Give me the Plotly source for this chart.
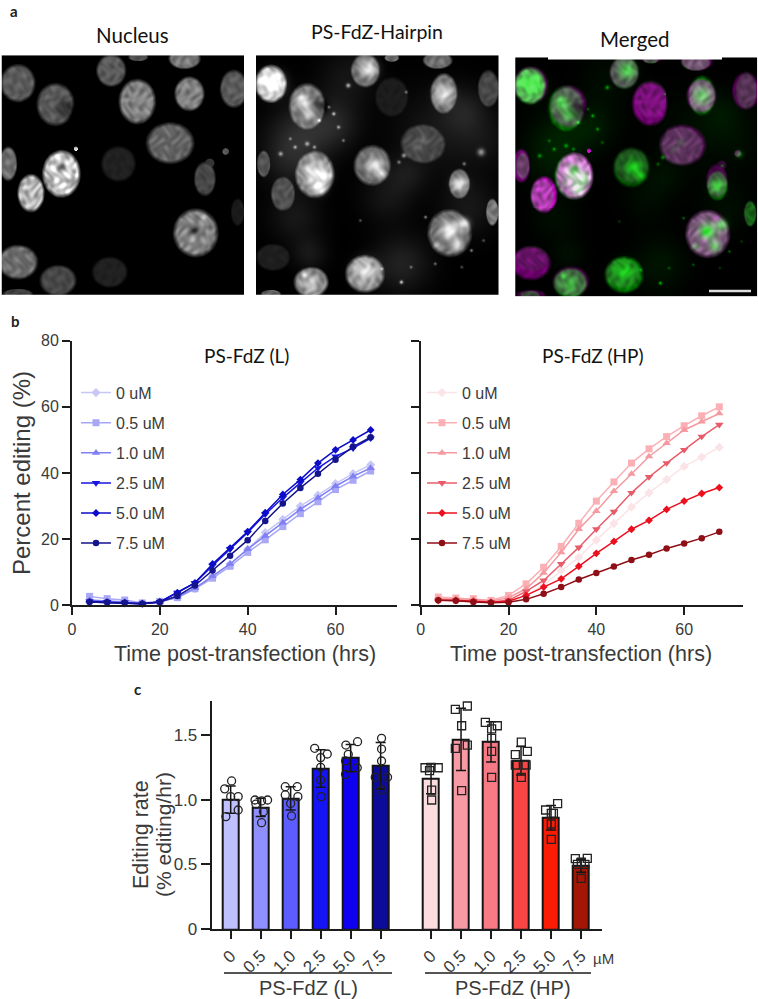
import numpy as np
import plotly.graph_objects as go

W, H = 758, 999

# ---------- panel b data ----------
TIME = [4, 8, 12, 16, 20, 24, 28, 32, 36, 40, 44, 48, 52, 56, 60, 64, 68]
DOSE_LABELS = ["0 uM", "0.5 uM", "1.0 uM", "2.5 uM", "5.0 uM", "7.5 uM"]
SYMBOLS = ["diamond", "square", "triangle-up", "triangle-down", "diamond", "circle"]
MARKER_SIZES = [7, 7, 7.5, 7.5, 6, 6.5]
L_0 = [1.0, 0.7, 0.6, 0.5, 1.0, 2.5, 5.0, 8.7, 12.5, 17.0, 22.0, 26.0, 30.0, 33.3, 36.8, 39.8, 42.5]
L_05 = [2.7, 2.0, 1.6, 0.7, 1.2, 2.3, 5.0, 8.2, 11.8, 16.0, 19.8, 23.8, 27.7, 31.3, 35.0, 37.8, 40.6]
L_10 = [1.6, 1.4, 1.0, 0.6, 1.0, 2.5, 5.2, 8.8, 12.5, 17.0, 21.0, 25.0, 29.0, 32.5, 36.0, 39.0, 41.5]
L_25 = [1.2, 1.0, 0.9, 0.5, 1.0, 3.8, 6.8, 12.0, 17.0, 22.0, 27.5, 32.5, 37.0, 41.5, 45.0, 47.5, 50.5]
L_50 = [1.0, 0.9, 0.8, 0.5, 1.0, 3.8, 6.8, 12.5, 17.3, 22.3, 28.0, 33.5, 38.0, 43.0, 47.0, 50.0, 53.0]
L_75 = [1.0, 0.9, 0.8, 0.5, 1.0, 2.8, 6.0, 10.5, 15.0, 19.7, 25.5, 30.8, 35.5, 39.8, 44.0, 48.0, 50.8]
HP_0 = [1.5, 1.5, 1.0, 0.9, 1.0, 3.0, 6.0, 10.5, 14.5, 19.7, 24.7, 29.7, 34.0, 38.0, 42.0, 44.8, 47.8]
HP_05 = [2.5, 2.2, 2.0, 1.5, 3.0, 6.5, 11.5, 17.8, 24.8, 31.5, 37.3, 43.0, 47.3, 51.0, 54.3, 57.3, 60.0]
HP_10 = [2.0, 2.0, 1.8, 1.3, 2.3, 5.0, 9.8, 16.0, 23.0, 28.5, 34.5, 39.7, 45.0, 49.0, 53.0, 55.5, 58.0]
HP_25 = [1.5, 1.5, 1.3, 1.0, 1.5, 4.2, 7.5, 12.5, 17.5, 23.0, 28.3, 34.0, 38.8, 43.0, 47.0, 51.0, 54.6]
HP_50 = [1.5, 1.5, 1.2, 0.9, 1.2, 3.0, 5.5, 8.0, 11.8, 15.7, 19.3, 23.0, 25.7, 29.0, 31.5, 33.8, 35.6]
HP_75 = [1.5, 1.4, 1.0, 0.8, 0.9, 1.8, 3.5, 5.5, 7.8, 9.8, 11.7, 13.7, 15.3, 17.2, 18.7, 20.3, 22.2]
L_LINE_COLORS = ["#c8c8f6", "#a8a8f6", "#8080f4", "#1616e0", "#0c0cc8", "#14148c"]
HP_LINE_COLORS = ["#fbe4e7", "#fbb0b5", "#f59aa0", "#e85c6a", "#ec101e", "#8f0f17"]

# ---------- panel c data ----------
BAR_TICKS = ["0", "0.5", "1.0", "2.5", "5.0", "7.5"]
L_POS = [0, 1, 2, 3, 4, 5]
HP_POS = [6.68, 7.68, 8.68, 9.68, 10.68, 11.68]
L_RATE = [1.00, 0.94, 1.01, 1.24, 1.32, 1.26]
HP_RATE = [1.16, 1.465, 1.445, 1.30, 0.86, 0.49]
L_SD = [0.105, 0.07, 0.09, 0.145, 0.105, 0.18]
HP_SD = [0.115, 0.24, 0.155, 0.11, 0.095, 0.05]
L_BAR_COLORS = ["#bfc0ff", "#8f8fff", "#5c5cff", "#1414f5", "#1000f0", "#0c0c99"]
HP_BAR_COLORS = ["#fbdde0", "#f79aa3", "#f77a85", "#fa4545", "#fb1c05", "#a31505"]
L_POINTS = [[1.144, 1.083, 1.023, 1.023, 0.92, 0.869],
            [0.997, 0.997, 0.99, 0.966, 0.907, 0.822],
            [1.10, 1.10, 1.036, 1.023, 0.971, 0.874],
            [1.396, 1.352, 1.324, 1.249, 1.151, 1.023],
            [1.421, 1.447, 1.349, 1.298, 1.246, 1.195],
            [1.473, 1.39, 1.298, 1.172, 1.172, 1.074]]
L_JITTER = [[0.03, -0.2, 0.25, 0.0, 0.25, -0.16],
            [-0.19, 0.23, 0.03, -0.16, 0.09, 0.03],
            [-0.18, 0.22, -0.18, 0.24, 0.0, 0.03],
            [-0.2, 0.22, 0.0, 0.0, 0.0, 0.02],
            [-0.16, 0.23, -0.08, -0.17, 0.22, -0.17],
            [0.03, 0.03, 0.03, 0.23, -0.18, 0.03]]
HP_POINTS = [[1.246, 1.249, 1.246, 1.223, 1.074, 0.997],
             [1.722, 1.696, 1.57, 1.396, 1.421, 1.069],
             [1.596, 1.57, 1.545, 1.473, 1.372, 1.172],
             [1.444, 1.372, 1.347, 1.267, 1.267, 1.172],
             [0.969, 0.92, 0.894, 0.812, 0.694, 0.894],
             [0.545, 0.547, 0.517, 0.501, 0.501, 0.393]]
HP_JITTER = [[-0.2, 0.0, 0.24, -0.05, 0.02, 0.02],
             [0.21, -0.19, 0.02, -0.19, 0.21, 0.02],
             [-0.19, 0.21, 0.02, 0.02, 0.02, 0.02],
             [0.01, 0.21, -0.19, -0.19, 0.17, 0.01],
             [0.22, -0.18, 0.01, 0.01, 0.01, 0.08],
             [-0.19, 0.21, 0.01, -0.12, 0.13, 0.01]]

# ---------- panel a micrographs: (x, y, rx, ry, brightness) in reference zoom units ----------
NUC_DAPI = [(35, 248, 35, 55, .42), (113, 312, 38, 62, .42), (228, 210, 30, 47, .42), (282, 303, 37, 65, .6),
            (390, 280, 30, 50, .6), (482, 265, 28, 55, .42), (380, 175, 32, 30, .55), (350, 428, 48, 60, .46),
            (243, 490, 35, 52, .15), (125, 520, 38, 68, 1.0), (62, 578, 27, 55, .85), (15, 490, 18, 50, .5),
            (422, 535, 22, 50, .33), (403, 697, 45, 70, .6), (35, 785, 40, 50, .5), (118, 840, 37, 45, .33),
            (225, 815, 36, 45, .15), (490, 635, 14, 40, .12), (35, 880, 30, 15, .3), (284, 170, 20, 12, .35),
            (155, 445, 4, 7, 1.0), (465, 453, 7, 10, .4), (432, 488, 10, 14, .25)]
NUC_HAIR = [(560, 250, 32, 55, .8), (635, 320, 38, 70, .55), (755, 210, 30, 50, .5), (810, 290, 35, 60, .13),
            (918, 280, 28, 60, .55), (1010, 265, 22, 55, .33), (875, 430, 47, 60, .33), (650, 520, 40, 70, .65),
            (770, 495, 38, 60, .48), (585, 580, 25, 52, .38), (545, 490, 14, 40, .38), (950, 550, 22, 45, .5),
            (1018, 635, 13, 40, .55), (930, 697, 45, 70, .5), (755, 820, 40, 55, .62), (643, 845, 35, 45, .62),
            (565, 770, 35, 40, .14), (905, 180, 30, 25, .5), (810, 172, 15, 12, .45), (560, 880, 20, 12, .45)]
# (x, y, radius in px, amplitude)
BLOBS_DAPI = [(135, 325, 6, -.2), (125, 500, 4, -.3), (105, 545, 3, -.3), (145, 540, 3, -.25), (400, 690, 3, -.3),
              (420, 650, 2, .25), (395, 720, 2, .2)]
BLOBS_HAIR = [(565, 250, 8, .45), (545, 235, 4, .2), (625, 300, 5, .45), (640, 335, 5, .35), (660, 320, 5, -.3), (762, 205, 6, .5),
              (918, 280, 6, .45), (650, 515, 7, .4), (675, 525, 4, .35), (660, 560, 5, .45), (775, 495, 6, .5), (790, 520, 3, .35),
              (950, 550, 5, .5), (930, 690, 6, .6), (960, 670, 4, .5), (945, 735, 4, .45), (905, 735, 2.5, .3), (755, 810, 8, .35),
              (643, 850, 5, .3), (630, 825, 2, .3), (875, 420, 3, .15), (860, 440, 3, .12),
              (690, 340, 1.2, .6), (660, 360, 1.2, .5), (700, 380, 1.2, .5), (635, 430, 1.5, .5), (610, 440, 1.2, .5),
              (580, 460, 1.5, .5), (835, 465, 1.5, .5), (995, 455, 2.5, .5), (880, 650, 1, .5), (830, 845, 1.2, .7),
              (975, 750, 1, .5), (720, 255, 1.5, .6), (840, 275, 1, .4), (710, 420, 1, .4), (900, 790, 1, .4),
              (680, 320, 1, .4), (600, 415, 1, .4), (650, 440, 1.2, .45), (825, 485, 1.2, .4), (960, 490, 1.2, .4),
              (850, 800, 1, .35), (790, 805, 1, .35), (955, 800, 1, .3), (745, 660, 1, .3), (1000, 720, 1, .3)]
HAZE_HAIR = [(620, 400, 22, .14), (690, 370, 18, .13), (800, 590, 18, .08), (610, 650, 18, .09), (900, 390, 30, .08),
             (830, 790, 20, .13), (640, 760, 12, .09), (970, 620, 20, .09), (960, 330, 16, .1), (720, 230, 20, .08),
             (600, 480, 20, .1), (840, 520, 14, .08), (1000, 420, 20, .06)]
P1_X0, P2_X0, PANEL_Y0 = 3, 530, 165
IM_W, IM_H = 243, 240
ZX, ZY = 2.07, 3.0


def render(nuclei, blobs, haze, x0):
    yy, xx = np.mgrid[0:IM_H, 0:IM_W].astype(float)
    img = np.zeros((IM_H, IM_W))
    warp_x = xx + 3 * np.sin(yy * .13 + 1.1) + 2 * np.sin(yy * .29)
    warp_y = yy + 3 * np.sin(xx * .17 + .4) + 2 * np.sin(xx * .31 + 2)
    tex = (0.09 * np.sin(warp_x * .53 + warp_y * .21) + 0.08 * np.sin(warp_x * .19 - warp_y * .47 + 1)
           + 0.07 * np.sin(warp_x * .37 + warp_y * .61 + 2) + 0.05 * np.sin(warp_x * .83 - warp_y * .29 + 3))
    for (zx, zy, r, a) in haze:
        cx, cy = (zx - x0) / ZX, (zy - PANEL_Y0) / ZY
        img += a * np.exp(-((xx - cx) ** 2 + (yy - cy) ** 2) / (2 * r ** 2))
    for (zx, zy, rx, ry, b) in nuclei:
        cx, cy = (zx - x0) / ZX, (zy - PANEL_Y0) / ZY
        d = np.sqrt(((xx - cx) / (rx / ZX)) ** 2 + ((yy - cy) / (ry / ZY)) ** 2)
        mask = np.clip((1.08 - d) / .22, 0, 1)
        img = np.maximum(img, b * mask * (0.85 + (0.35 + 0.75 * b) * tex))
    for (zx, zy, r, a) in blobs:
        cx, cy = (zx - x0) / ZX, (zy - PANEL_Y0) / ZY
        img += a * np.exp(-((xx - cx) ** 2 + (yy - cy) ** 2) / (2 * r ** 2))
    return np.clip(img, 0, 1)


dapi = render(NUC_DAPI, BLOBS_DAPI, [], P1_X0)
hair = render(NUC_HAIR, BLOBS_HAIR, HAZE_HAIR, P2_X0)
gray = lambda a: np.dstack([a * 255] * 3).astype(int)
merged = np.dstack([dapi * 240, hair ** 1.2 * 235, dapi * 240]).astype(int)

fig = go.Figure()
fx = lambda px: px / W
fy = lambda py: 1 - py / H

AXC = "#1c1c1c"
TXT = "#3a3a3a"
SANS = "Liberation Sans"
CAL = "Lato"
common = dict(showgrid=False, zeroline=False, showline=True, linecolor=AXC, linewidth=2, automargin=False,
              ticks="outside", ticklen=8, tickwidth=2, tickcolor=AXC,
              tickfont=dict(family=SANS, size=16, color=TXT))
hidden = dict(visible=False, fixedrange=True, automargin=False)

layout = dict(width=W, height=H, margin=dict(l=0, r=0, t=0, b=0, autoexpand=False), paper_bgcolor="white",
              plot_bgcolor="rgba(0,0,0,0)", showlegend=True, hovermode="closest", bargap=0)

# line charts
layout["xaxis"] = dict(common, domain=[fx(72), fx(397)], range=[0, 74], tickvals=[0, 20, 40, 60], anchor="y")
layout["yaxis"] = dict(common, domain=[fy(605.3), fy(340.7)], range=[0, 80], tickvals=[0, 20, 40, 60, 80], anchor="x",
                       title=dict(text="Percent editing (%)", font=dict(family=SANS, size=24, color=TXT), standoff=4))
layout["xaxis2"] = dict(common, domain=[fx(420.7), fx(743)], range=[0, 73.4], tickvals=[0, 20, 40, 60], anchor="y2")
layout["yaxis2"] = dict(common, domain=[fy(605.3), fy(340.7)], range=[0, 80], tickvals=[0, 20, 40, 60, 80],
                        showticklabels=False, anchor="x2")
# bar chart
layout["xaxis3"] = dict(common, domain=[fx(211.7), fx(601.7)], range=[-0.633, 12.37], tickvals=L_POS + HP_POS,
                        ticktext=BAR_TICKS + BAR_TICKS, tickangle=-45, anchor="y3",
                        tickfont=dict(family=SANS, size=17, color=TXT))
layout["yaxis3"] = dict(common, domain=[fy(929.3), fy(700.7)], range=[0, 1.763], tickvals=[0, 0.5, 1.0, 1.5],
                        ticktext=["0", "0.5", "1.0", "1.5"], anchor="x3", ticklen=9,
                        tickfont=dict(family=SANS, size=17, color=TXT))
# micrographs
for i, (x0, x1) in enumerate([(1.5, 244), (256, 498.5), (515, 757.5)]):
    y0, y1 = (55, 295) if i < 2 else (57.3, 296.5)
    layout[f"xaxis{4+i}"] = dict(hidden, domain=[fx(x0), fx(x1)], range=[-.5, IM_W - .5], anchor=f"y{4+i}")
    layout[f"yaxis{4+i}"] = dict(hidden, domain=[fy(y1), fy(y0)], range=[IM_H - .5, -.5], anchor=f"x{4+i}")

for i, z in enumerate([gray(dapi), gray(hair), merged]):
    fig.add_trace(go.Image(z=z, xaxis=f"x{4+i}", yaxis=f"y{4+i}", hoverinfo="skip"))

L_SERIES = [L_0, L_05, L_10, L_25, L_50, L_75]
HP_SERIES = [HP_0, HP_05, HP_10, HP_25, HP_50, HP_75]
for k in range(6):
    fig.add_trace(go.Scatter(x=TIME, y=L_SERIES[k], name=DOSE_LABELS[k], mode="lines+markers", xaxis="x", yaxis="y",
                             line=dict(color=L_LINE_COLORS[k], width=1.5), cliponaxis=False,
                             marker=dict(symbol=SYMBOLS[k], size=MARKER_SIZES[k], color=L_LINE_COLORS[k]),
                             legend="legend", legendgroup=f"L{k}"))
for k in range(6):
    fig.add_trace(go.Scatter(x=TIME, y=HP_SERIES[k], name=DOSE_LABELS[k], mode="lines+markers", xaxis="x2", yaxis="y2",
                             line=dict(color=HP_LINE_COLORS[k], width=1.5), cliponaxis=False,
                             marker=dict(symbol=SYMBOLS[k], size=MARKER_SIZES[k], color=HP_LINE_COLORS[k]),
                             legend="legend2", legendgroup=f"H{k}"))

legend_style = dict(bgcolor="rgba(0,0,0,0)", font=dict(family=SANS, size=16, color=TXT), tracegroupgap=6.3,
                    yanchor="top", xanchor="left", itemsizing="trace", traceorder="grouped")
layout["legend"] = dict(legend_style, x=fx(76), y=fy(375.7))
layout["legend2"] = dict(legend_style, x=fx(422), y=fy(375.7))

# bars, error bars, points
for pos, rate, sd, cols, pts, jit, sym in [(L_POS, L_RATE, L_SD, L_BAR_COLORS, L_POINTS, L_JITTER, "circle-open"),
                                           (HP_POS, HP_RATE, HP_SD, HP_BAR_COLORS, HP_POINTS, HP_JITTER, "square-open")]:
    fig.add_trace(go.Bar(x=pos, y=rate, width=0.533, xaxis="x3", yaxis="y3", showlegend=False,
                         marker=dict(color=cols, line=dict(color="#141414", width=2)),
                         error_y=dict(type="data", array=sd, visible=True, color="#141414", thickness=1.5, width=5)))
    xs = [p + j for p, js in zip(pos, jit) for j in js]
    ys = [v for vs in pts for v in vs]
    fig.add_trace(go.Scatter(x=xs, y=ys, mode="markers", xaxis="x3", yaxis="y3", showlegend=False, cliponaxis=False,
                             marker=dict(symbol=sym, size=8, color="#222222", line=dict(color="#222222", width=1.3))))


def note(text, x, y, size, family=SANS, color=TXT, bold=False, angle=0):
    return dict(text=f"<b>{text}</b>" if bold else text, x=fx(x), y=fy(y), xref="paper", yref="paper", showarrow=False,
                xanchor="center", yanchor="middle", textangle=angle, font=dict(family=family, size=size, color=color))


layout["annotations"] = [
    note("a", 14, 11, 15, CAL, "#222222", True), note("b", 15, 321, 15, CAL, "#222222", True),
    note("c", 137, 689, 15, CAL, "#222222", True),
    note("Nucleus", 132, 35, 20.5, CAL, "#111111"), note("PS-FdZ-Hairpin", 377, 32, 19.5, CAL, "#111111"),
    note("Merged", 635, 39, 20.5, CAL, "#111111"),
    note("PS-FdZ (L)", 246, 355, 19, CAL, "#111111"), note("PS-FdZ (HP)", 593, 355, 19, CAL, "#111111"),
    note("Time post-transfection (hrs)", 245, 654, 21.5), note("Time post-transfection (hrs)", 581, 654, 21.5),
    note("Editing rate", 141, 835, 21.5, angle=-90), note("(% editing/hr)", 163, 835, 21, angle=-90),
    note("PS-FdZ (L)", 308, 988, 20), note("PS-FdZ (HP)", 513, 988, 20), note("µM", 603, 958, 15),
]
layout["shapes"] = [
    dict(type="rect", xref="paper", yref="paper", x0=fx(548), x1=fx(722), y0=fy(59.5), y1=fy(56), fillcolor="white", line_width=0),
    dict(type="line", xref="paper", yref="paper", x0=fx(709), x1=fx(751), y0=fy(291), y1=fy(291), line=dict(color="#dddddd", width=2.5)),
    dict(type="line", xref="paper", yref="paper", x0=fx(224), x1=fx(392), y0=fy(973), y1=fy(973), line=dict(color="#1c1c1c", width=1.5)),
    dict(type="line", xref="paper", yref="paper", x0=fx(425), x1=fx(591), y0=fy(973), y1=fy(973), line=dict(color="#1c1c1c", width=1.5)),
]
fig.update_layout(**layout)
fig.write_html("out.html", config=dict(displayModeBar=False),
               post_script="document.body.style.margin='0';document.documentElement.style.overflow='hidden';")
